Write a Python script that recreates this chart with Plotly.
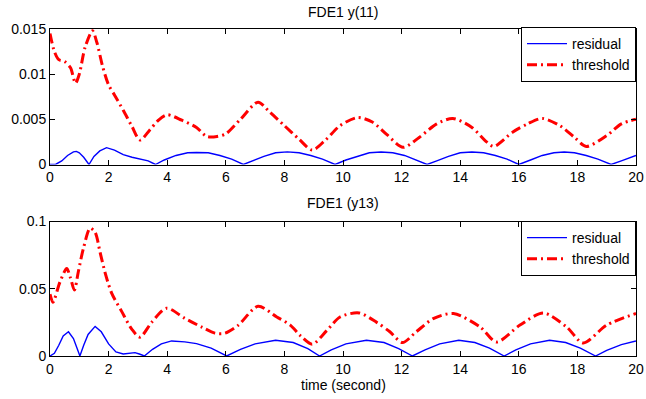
import plotly.graph_objects as go

# ---------------- data ----------------
t_res1 = [0, 0.2, 0.4, 0.6, 0.8, 0.9, 1.0, 1.15, 1.33, 1.5, 1.7, 1.93, 2.2, 2.5, 2.8, 3.1, 3.35, 3.6,
          3.9, 4.3, 4.7, 5.0, 5.4, 5.8, 6.2, 6.6, 6.9, 7.3, 7.7, 8.1, 8.5, 8.9, 9.3, 9.73,
          10.1, 10.5, 10.9, 11.3, 11.7, 12.1, 12.5, 12.87, 13.2, 13.6, 14.0, 14.4, 14.8, 15.2, 15.6, 16.0,
          16.4, 16.8, 17.2, 17.55, 17.9, 18.3, 18.7, 19.15, 19.5, 20.0]
res1 = [0, 0.00003, 0.0004, 0.0010, 0.0014, 0.00145, 0.0013, 0.0008, 0.0, 0.0009, 0.0015, 0.00186,
        0.0016, 0.0011, 0.0008, 0.0006, 0.0004, 0.0, 0.0005, 0.0010, 0.0013, 0.00133, 0.0013, 0.0010,
        0.0006, 0.0, 0.0004, 0.0009, 0.0013, 0.0014, 0.0013, 0.0010, 0.0006, 0.0,
        0.0005, 0.0009, 0.0013, 0.00138, 0.0013, 0.0010, 0.0005, 0.0, 0.0004, 0.0009, 0.0013, 0.00138,
        0.0013, 0.0010, 0.0006, 0.0, 0.0005, 0.0010, 0.0013, 0.00138, 0.0013, 0.0010, 0.0006, 0.0,
        0.0004, 0.0010]

t_thr1 = [0, 0.15, 0.3, 0.5, 0.7, 0.87, 1.0, 1.2, 1.45, 1.6, 1.8, 2.0, 2.2, 2.5, 2.8, 3.07, 3.4, 3.7,
          4.0, 4.5, 5.0, 5.35, 5.7, 6.0, 6.5, 7.1, 7.5, 8.0, 8.5, 8.95, 9.4, 9.9, 10.5, 11.0, 11.5,
          12.05, 12.6, 13.2, 13.75, 14.4, 14.9, 15.15, 15.8, 16.3, 16.8, 17.4, 17.9, 18.3, 19.0, 19.5, 20.0]
thr1 = [0.0145, 0.0125, 0.0116, 0.0114, 0.0107, 0.0090, 0.0100, 0.0130, 0.0148, 0.0135, 0.0108,
        0.0088, 0.0077, 0.0060, 0.0042, 0.0027, 0.0038, 0.0049, 0.0055, 0.0049, 0.0041, 0.0031,
        0.0031, 0.0034, 0.0050, 0.0069, 0.0058, 0.0043, 0.0028, 0.0016, 0.0027, 0.0043, 0.0052,
        0.0047, 0.0033, 0.0019, 0.0030, 0.0045, 0.0051, 0.0041, 0.0025, 0.0020, 0.0036, 0.0045,
        0.0051, 0.0043, 0.0030, 0.0020, 0.0032, 0.0045, 0.0050]

t_res2 = [0, 0.15, 0.3, 0.45, 0.63, 0.8, 0.92, 1.02, 1.15, 1.3, 1.54, 1.75, 2.0, 2.25, 2.5, 2.9, 3.05,
          3.22, 3.5, 3.8, 4.15, 4.6, 5.0, 5.5, 6.03, 6.5, 7.0, 7.7, 8.3, 8.8, 9.2, 9.6, 10.1, 10.8,
          11.4, 11.9, 12.37, 12.8, 13.3, 13.95, 14.5, 15.0, 15.5, 15.9, 16.4, 17.05, 17.6, 18.1, 18.62,
          19.0, 19.5, 20.0]
res2 = [0, 0.002, 0.008, 0.015, 0.018, 0.013, 0.006, 0, 0.008, 0.016, 0.022, 0.018, 0.009, 0.003,
        0.0015, 0.0025, 0.0015, 0, 0.005, 0.009, 0.0112, 0.0105, 0.0092, 0.0058, 0, 0.005, 0.009,
        0.0117, 0.010, 0.0055, 0, 0.0045, 0.009, 0.0117, 0.010, 0.0055, 0, 0.0045, 0.009, 0.0117,
        0.010, 0.0058, 0, 0.0045, 0.009, 0.0117, 0.010, 0.0058, 0, 0.0042, 0.0085, 0.0112]

t_thr2 = [0, 0.1, 0.34, 0.57, 0.7, 0.83, 0.97, 1.14, 1.37, 1.54, 1.71, 1.88, 2.1, 2.45, 2.79, 3.07,
          3.47, 3.98, 4.6, 5.18, 5.63, 5.97, 6.43, 7.1, 7.74, 8.2, 8.55, 8.95, 9.45, 9.9, 10.55,
          11.15, 11.6, 12.03, 12.5, 13.1, 13.77, 14.68, 15.24, 16.04, 16.84, 17.63, 18.2, 19.0, 20.0]
thr2 = [0.046, 0.040, 0.055, 0.065, 0.058, 0.049, 0.063, 0.080, 0.095, 0.092, 0.077, 0.062, 0.047,
        0.033, 0.020, 0.014, 0.025, 0.0355, 0.028, 0.0215, 0.017, 0.017, 0.023, 0.037, 0.029, 0.023,
        0.015, 0.0088, 0.019, 0.029, 0.032, 0.025, 0.018, 0.010, 0.018, 0.028, 0.0316, 0.0216,
        0.0104, 0.023, 0.032, 0.0216, 0.0097, 0.023, 0.0316]

titles = ["FDE1 y(11)", "FDE1 (y13)"]
xlabel = "time (second)"
x_ticks = [0, 2, 4, 6, 8, 10, 12, 14, 16, 18, 20]
y1_ticks = [0, 0.005, 0.01, 0.015]
y2_ticks = [0, 0.05, 0.1]
names = ["residual", "threshold"]

# ---------------- figure ----------------
W, H = 646, 399
TOP, BOT = 29, 356          # pixel rows of the plot-area top / bottom
PH = BOT - TOP
FONT = "Liberation Sans, Arial, Helvetica, sans-serif"
FS = 14
blue = "#0000FF"
red = "#FF0000"
dash = "10px,4px,2px,4px"


def py(pix):
    """pixel row -> paper y coordinate"""
    return (BOT - pix) / PH


fig = go.Figure()
fig.add_trace(go.Scatter(x=t_res1, y=res1, mode="lines", name=names[0],
                         line=dict(color=blue, width=1.4), xaxis="x", yaxis="y", legend="legend"))
fig.add_trace(go.Scatter(x=t_thr1, y=thr1, mode="lines", name=names[1],
                         line=dict(color=red, width=3, dash=dash, shape="spline", smoothing=0.8),
                         xaxis="x", yaxis="y", legend="legend"))
fig.add_trace(go.Scatter(x=t_res2, y=res2, mode="lines", name=names[0],
                         line=dict(color=blue, width=1.4), xaxis="x2", yaxis="y2", legend="legend2"))
fig.add_trace(go.Scatter(x=t_thr2, y=thr2, mode="lines", name=names[1],
                         line=dict(color=red, width=3, dash=dash, shape="spline", smoothing=0.8),
                         xaxis="x2", yaxis="y2", legend="legend2"))

top_dom = [py(164.5), 1]
bot_dom = [0, py(221.5)]

axis_common = dict(showline=True, linecolor="black", linewidth=1, mirror="ticks",
                   ticks="inside", ticklen=5, tickcolor="black", showgrid=False, zeroline=False,
                   tickfont=dict(family=FONT, size=FS, color="black"))

legend_common = dict(x=1, xanchor="right", yanchor="top", bgcolor="white",
                     bordercolor="black", borderwidth=1, font=dict(family=FONT, size=FS),
                     tracegroupgap=0, itemwidth=40)

fig.update_layout(
    width=W, height=H,
    margin=dict(l=50, r=10, t=TOP, b=H - BOT, autoexpand=False),
    paper_bgcolor="white", plot_bgcolor="white",
    font=dict(family=FONT, size=FS, color="black"),
    xaxis=dict(domain=[0, 1], anchor="y", range=[0, 20], tickvals=x_ticks, **axis_common),
    yaxis=dict(domain=top_dom, anchor="x", range=[0, 0.015], tickvals=y1_ticks, **axis_common),
    xaxis2=dict(domain=[0, 1], anchor="y2", range=[0, 20], tickvals=x_ticks, **axis_common),
    yaxis2=dict(domain=bot_dom, anchor="x2", range=[0, 0.1], tickvals=y2_ticks, **axis_common),
    legend=dict(y=py(27), **legend_common),
    legend2=dict(y=py(221), **legend_common),
    annotations=[
        dict(text=titles[0], x=0.5, xref="paper", y=py(12), yref="paper", yanchor="middle",
             showarrow=False, font=dict(family=FONT, size=FS)),
        dict(text=titles[1], x=0.5, xref="paper", y=py(203), yref="paper", yanchor="middle",
             showarrow=False, font=dict(family=FONT, size=FS)),
        dict(text=xlabel, x=0.5, xref="paper", y=py(385), yref="paper", yanchor="middle",
             showarrow=False, font=dict(family=FONT, size=FS)),
    ],
)

fig.write_html("out.html")
